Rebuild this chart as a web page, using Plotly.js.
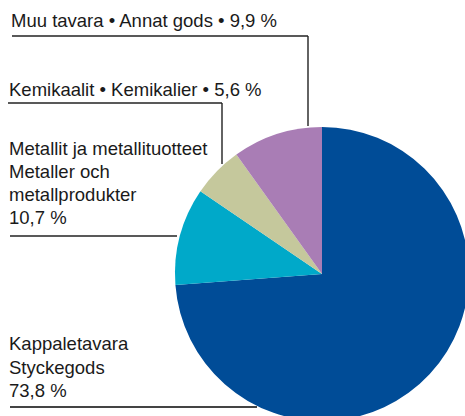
<!DOCTYPE html>
<html>
<head>
<meta charset="utf-8">
<script src="https://cdn.plot.ly/plotly-3.0.1.min.js"></script>
<style>
html,body{margin:0;padding:0;overflow:hidden;background:#fff;width:465px;height:416px;}
#chart{width:480px;height:440px;}
</style>
</head>
<body>
<div id="chart"></div>
<script>
// Data
const names = ["Kappaletavara", "Metallit", "Kemikaalit", "Muu tavara"];
const labelLines = [
  ["Kappaletavara", "Styckegods"],
  ["Metallit ja metallituotteet", "Metaller och", "metallprodukter"],
  ["Kemikaalit • Kemikalier"],
  ["Muu tavara • Annat gods"]
];
const values = [73.8, 10.7, 5.6, 9.9];
const valueLabels = ["73,8 %", "10,7 %", "5,6 %", "9,9 %"];
const colors = ["#004c97", "#00a9c9", "#c5c89c", "#a97db5"];

const W = 480, H = 440;
const px = x => x / W;
const py = y => 1 - y / H;

// pie centre (322,274), radius 147 in page px
const cx = 322, cy = 274, r = 147;

const trace = {
  type: "pie",
  values: values,
  labels: names,
  marker: {colors: colors, line: {width: 0}},
  sort: false,
  direction: "clockwise",
  rotation: 0,
  textinfo: "none",
  hoverinfo: "none",
  showlegend: false,
  domain: {x: [px(cx - r), px(cx + r)], y: [py(cy + r), py(cy - r)]}
};

const FS = 18.5;
const font = {family: "Arial, Liberation Sans, sans-serif", size: FS, color: "#1a1a1a"};
// place a line of text by its left edge and baseline (page px)
function ann(text, x, baseline) {
  return {text: text, xref: "paper", yref: "paper", x: px(x), y: py(baseline - (1 + 0.905 * FS)),
    xanchor: "left", yanchor: "top", align: "left", showarrow: false, font: font};
}
const blocks = [
  // [lines, x, first baseline, spacing]
  [[labelLines[3][0] + " • " + valueLabels[3]], 9, 25.5, 23],
  [[labelLines[2][0] + " • " + valueLabels[2]], 7, 94.5, 23],
  [labelLines[1].concat([valueLabels[1]]), 7, 154, 23],
  [labelLines[0].concat([valueLabels[0]]), 7, 349, 23.5]
];
const annotations = [];
blocks.forEach(([lines, x, b, s]) => lines.forEach((t, i) => annotations.push(ann(t, x, b + i * s))));

const lc = {color: "#222", width: 1.4};
function seg(x0, y0, x1, y1, line) {
  return {type: "line", xref: "paper", yref: "paper", x0: px(x0), y0: py(y0), x1: px(x1), y1: py(y1), line: line || lc};
}
const shapes = [
  seg(12, 36, 308, 36), seg(308, 36, 308, 126),
  seg(8, 103, 222, 103), seg(222, 103, 222, 164),
  seg(10, 236, 177, 236),
  seg(10, 407, 257, 407, {color: "#444", width: 1.8})
];

const layout = {
  width: W, height: H,
  margin: {l: 0, r: 0, t: 0, b: 0},
  paper_bgcolor: "#fff",
  annotations: annotations,
  shapes: shapes
};
Plotly.newPlot("chart", [trace], layout, {staticPlot: true, displayModeBar: false});
</script>
</body>
</html>
